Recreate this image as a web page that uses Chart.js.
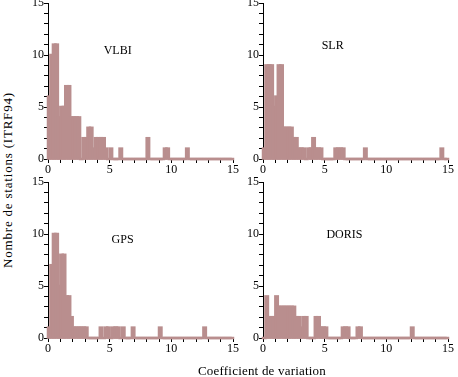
<!DOCTYPE html>
<html>
<head>
<meta charset="utf-8">
<script src="https://cdn.jsdelivr.net/npm/chart.js@4/dist/chart.umd.min.js"></script>
<style>
  html, body { margin: 0; padding: 0; background: #fff; }
  body { width: 458px; height: 377px; position: relative; overflow: hidden;
         font-family: "Liberation Serif", "DejaVu Serif", serif; color: #000; }
  canvas { position: absolute; }
  .titre { position: absolute; font-size: 13px; white-space: nowrap; }
  #titreY { left: 8px; top: 180px; letter-spacing: 0.8px; transform: translate(-50%, -50%) rotate(-90deg); }
  #titreX { left: 262px; top: 371px; letter-spacing: 0.2px; transform: translate(-50%, -50%); }
</style>
</head>
<body>
<canvas id="vlbi" width="225" height="191" style="left:20px;top:-10px"></canvas>
<canvas id="slr" width="225" height="191" style="left:235px;top:-10px"></canvas>
<canvas id="gps" width="225" height="191" style="left:20px;top:169px"></canvas>
<canvas id="doris" width="225" height="191" style="left:235px;top:169px"></canvas>
<div class="titre" id="titreY">Nombre de stations (ITRF94)</div>
<div class="titre" id="titreX">Coefficient de variation</div>

<script>
// classes de largeur 0.2 entre 0 et 15 (75 classes)
const largeurClasse = 0.2;
const classes = Array.from({ length: 75 }, (_, i) => +(i * largeurClasse + largeurClasse / 2).toFixed(2));

// nombre de stations par classe
const vlbi = [6, 10, 11, 11, 4, 5, 5, 7, 7, 4, 4, 4, 4, 0, 2, 2, 3, 3, 1, 2,
              2, 2, 2, 1, 0, 1, 0, 0, 0, 1, 0, 0, 0, 0, 0, 0, 0, 0, 0, 0,
              2, 0, 0, 0, 0, 0, 0, 1, 1, 0, 0, 0, 0, 0, 0, 0, 1, 0, 0, 0,
              0, 0, 0, 0, 0, 0, 0, 0, 0, 0, 0, 0, 0, 0, 0];
const slr = [1, 9, 9, 9, 5, 6, 9, 9, 3, 3, 3, 3, 2, 2, 1, 1, 1, 0, 1, 1,
             2, 1, 1, 1, 0, 0, 0, 0, 0, 1, 1, 1, 1, 0, 0, 0, 0, 0, 0, 0,
             0, 1, 0, 0, 0, 0, 0, 0, 0, 0, 0, 0, 0, 0, 0, 0, 0, 0, 0, 0,
             0, 0, 0, 0, 0, 0, 0, 0, 0, 0, 0, 0, 1, 0, 0];
const gps = [1, 7, 10, 10, 5, 8, 8, 4, 4, 2, 1, 1, 1, 1, 1, 1, 0, 0, 0, 0,
             0, 1, 0, 1, 1, 0, 1, 1, 1, 0, 1, 0, 0, 0, 1, 0, 0, 0, 0, 0,
             0, 0, 0, 0, 0, 1, 0, 0, 0, 0, 0, 0, 0, 0, 0, 0, 0, 0, 0, 0,
             0, 0, 0, 1, 0, 0, 0, 0, 0, 0, 0, 0, 0, 0, 0];
const doris = [0, 4, 2, 2, 2, 4, 3, 3, 3, 3, 3, 3, 3, 2, 2, 1, 2, 2, 0, 0,
               0, 2, 2, 1, 1, 1, 0, 0, 0, 0, 0, 0, 1, 1, 1, 0, 0, 0, 1, 1,
               0, 0, 0, 0, 0, 0, 0, 0, 0, 0, 0, 0, 0, 0, 0, 0, 0, 0, 0, 0,
               1, 0, 0, 0, 0, 0, 0, 0, 0, 0, 0, 0, 0, 0, 0];

const couleurBarres = "#b98e8e";
const police = { family: "'Liberation Serif', 'DejaVu Serif', serif", size: 12 };

// texte du panneau (VLBI, SLR...) posé en coordonnées de données
const etiquettePlugin = {
    id: "etiquette",
    afterDatasetsDraw(chart, args, opts) {
        const { ctx, scales: { x, y } } = chart;
        ctx.save();
        ctx.font = "12px 'Liberation Serif', serif";
        ctx.fillStyle = "#000";
        ctx.textAlign = "center";
        ctx.textBaseline = "middle";
        ctx.fillText(opts.texte, x.getPixelForValue(opts.x), y.getPixelForValue(opts.y));
        ctx.restore();
    }
};

function axeCommun() {
    return {
        min: 0,
        max: 15,
        offset: false,
        ticks: {
            stepSize: 1,
            autoSkip: false,
            maxRotation: 0,
            padding: 0,
            color: "#000",
            font: police,
            callback: v => (v % 5 === 0 ? v : "")
        },
        grid: {
            offset: false,
            drawOnChartArea: false,
            color: "#000",
            tickLength: 4,
            tickColor: "#000"
        }
    };
}

function histogramme(id, valeurs, texte, posX, posY) {
    const ctx = document.getElementById(id);

    const axeX = axeCommun();
    axeX.type = "linear";
    axeX.border = { display: false };
    axeX.afterFit = scale => { scale.height = 22; };

    const axeY = axeCommun();
    axeY.border = { display: true, color: "#000", width: 1 };
    axeY.afterFit = scale => { scale.width = 28; };

    new Chart(ctx, {
        type: "bar",
        data: {
            datasets: [{
                data: classes.map((c, i) => ({ x: c, y: valeurs[i] })),
                backgroundColor: couleurBarres,
                borderWidth: 0,
                inflateAmount: 1.25,
                barPercentage: 1,
                categoryPercentage: 1,
                clip: false
            }]
        },
        options: {
            responsive: false,
            animation: false,
            layout: { padding: { top: 13, right: 12, bottom: 0, left: 0 } },
            plugins: {
                legend: { display: false },
                tooltip: { enabled: false },
                etiquette: { texte: texte, x: posX, y: posY }
            },
            scales: { x: axeX, y: axeY }
        },
        plugins: [etiquettePlugin]
    });
}

histogramme("vlbi", vlbi, "VLBI", 5.65, 10.4);
histogramme("slr", slr, "SLR", 5.65, 10.9);
histogramme("gps", gps, "GPS", 6.05, 9.4);
histogramme("doris", doris, "DORIS", 6.6, 9.9);
</script>
</body>
</html>
